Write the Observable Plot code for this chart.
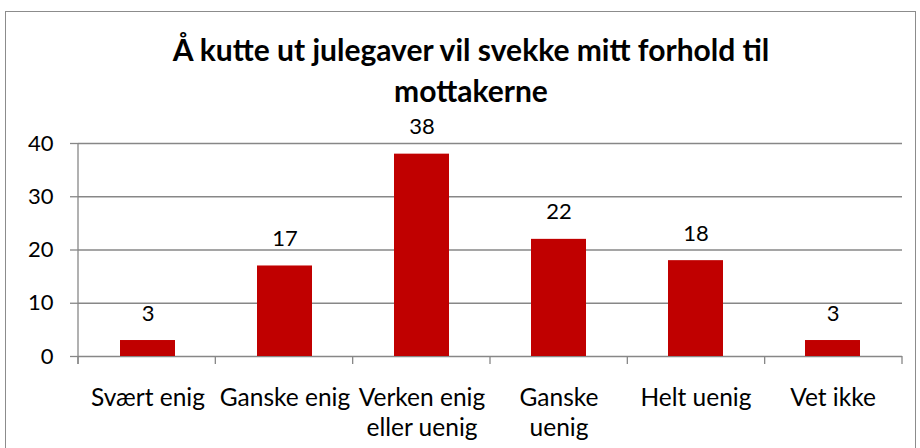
<!DOCTYPE html>
<html>
<head>
<meta charset="utf-8">
<script src="https://cdn.jsdelivr.net/npm/d3@7"></script>
<script src="https://cdn.jsdelivr.net/npm/@observablehq/plot@0.6"></script>
<style>
  html, body { margin: 0; padding: 0; background: #fff; overflow: hidden; }
  #wrap { position: relative; width: 920px; height: 448px; }
  #border { position: absolute; left: 5px; top: 11px; width: 911px; height: 460px; border: 1px solid #8c8c8c; box-sizing: border-box; }
  #title { position: relative; width: 920px; height: 115px; box-sizing: border-box; padding-left: 22px; padding-top: 29px;
           font-family: Lato, "Open Sans", sans-serif; font-weight: 700; font-size: 30px; line-height: 41px; text-align: center; color: #000; }
  #chart { position: relative; }
</style>
</head>
<body>
<div id="wrap">
  <div id="border"></div>
  <div id="title">Å kutte ut julegaver vil svekke mitt forhold til<br>mottakerne</div>
  <div id="chart"></div>
</div>
<script>
const categories = ["Svært enig", "Ganske enig", "Verken enig eller uenig", "Ganske uenig", "Helt uenig", "Vet ikke"];
const tickLabels = ["Svært enig", "Ganske enig", "Verken enig\neller uenig", "Ganske\nuenig", "Helt uenig", "Vet ikke"];
const values = [3, 17, 38, 22, 18, 3];
const yTicks = [0, 10, 20, 30, 40];

const data = categories.map((c, i) => ({category: c, label: tickLabels[i], value: values[i]}));
const gray = "#878787";

function boundaryTicks(index, scales, values, dimensions) {
  const {width, marginLeft, marginRight} = dimensions;
  const n = categories.length;
  const step = (width - marginLeft - marginRight) / n;
  const y0 = scales.y(0);
  const yTop = scales.y(yTicks[yTicks.length - 1]);
  const g = d3.create("svg:g").attr("stroke", gray).attr("stroke-width", 1.3);
  g.append("line").attr("x1", marginLeft).attr("x2", marginLeft).attr("y1", yTop).attr("y2", y0 + 8);
  for (let i = 0; i <= n; ++i) {
    const x = marginLeft + i * step;
    g.append("line").attr("x1", x).attr("x2", x).attr("y1", y0).attr("y2", y0 + 8);
  }
  return g.node();
}

const chart = Plot.plot({
  width: 920,
  height: 333,
  marginTop: 28,
  marginBottom: 92,
  marginLeft: 78,
  marginRight: 18,
  style: {fontFamily: "Lato, 'Open Sans', sans-serif", fontSize: "22px", color: "#000", background: "transparent", overflow: "visible"},
  x: {domain: categories, paddingInner: 0.6, paddingOuter: 0.3, axis: null},
  y: {domain: [0, 40], axis: null},
  marks: [
    Plot.gridY(yTicks, {stroke: gray, strokeOpacity: 1, strokeWidth: 1.3}),
    Plot.axisY(yTicks, {tickSize: 8, tickPadding: 17, stroke: gray, strokeWidth: 1.3, fontSize: 22, fill: "#000", label: null}),
    boundaryTicks,
    Plot.barY(data, {x: "category", y: "value", fill: "#C00000"}),
    Plot.text(data, {x: "category", y: "value", text: d => String(d.value), dy: -27, fontSize: 22, fill: "#000"}),
    Plot.text(data, {x: "category", text: "label", frameAnchor: "bottom", lineAnchor: "top", dy: 29, lineHeight: 1.2, fontSize: 24.5, fill: "#000"})
  ]
});
document.getElementById("chart").appendChild(chart);
</script>
</body>
</html>
